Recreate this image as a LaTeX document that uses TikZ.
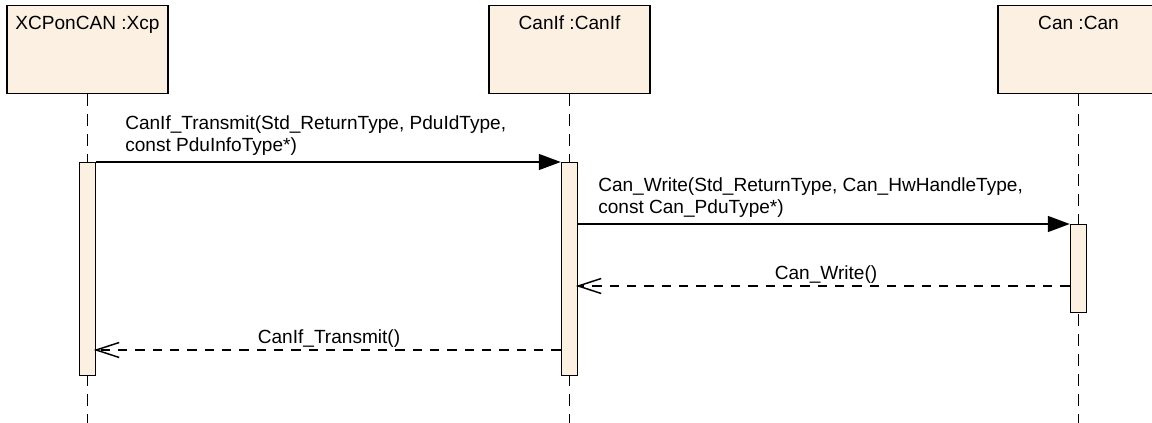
\documentclass[tikz,border=0pt]{standalone}
\usepackage{fontspec}
\setmainfont{Liberation Sans}
\usetikzlibrary{arrows.meta,calc}
\definecolor{objfill}{RGB}{251,240,226}
\begin{document}
\begin{tikzpicture}[x=0.75pt,y=-0.75pt,
  txt/.style={font=\fontsize{14.3pt}{16.5pt}\selectfont,inner sep=0pt},
  objbox/.style={draw,line width=1.1pt,fill=objfill,minimum width=120.75pt,minimum height=66pt,inner sep=0pt,anchor=north},
  objlabel/.style={txt,anchor=base},
  msglabel/.style={txt,anchor=base west},
  retlabel/.style={txt,anchor=base},
  lifeline/.style={line width=1.1pt,dash pattern=on 9pt off 6pt},
  actbar/.style={draw,line width=1.1pt,fill=objfill,minimum width=12pt,inner sep=0pt,anchor=north},
  call/.style={line width=1.1pt,-{Triangle[length=16.5pt,width=12pt]}},
  ret/.style={line width=1.1pt,dash pattern=on 7pt off 6pt},
  openhead/.style={line width=1.1pt,line join=miter}]
\useasboundingbox (0,0) rectangle (1152,423);
\clip (0,0) rectangle (1152,423);
% object boxes
\node[objbox] (xcp) at (87.5,5) {};
\node[objbox] (canif) at (569.5,5) {};
\node[objbox] (can) at (1078.5,5) {};
\node[objlabel] (xcpl) at ($(xcp.north)+(0,25)$) {XCPonCAN :Xcp};
\node[objlabel] (canifl) at ($(canif.north)+(0,25)$) {CanIf :CanIf};
\node[objlabel] (canl) at ($(can.north)+(0,25)$) {Can :Can};
% helper coordinates
\coordinate (bot) at (0,423);
\coordinate (y1) at (0,162);
\coordinate (y2) at (0,224);
\coordinate (y3) at (0,286);
\coordinate (y4) at (0,350);
% lifelines
\draw[lifeline] (xcp.south) -- (xcp.south |- bot);
\draw[lifeline] (canif.south) -- (canif.south |- bot);
\draw[lifeline] (can.south) -- (can.south |- bot);
% activation bars
\node[actbar,minimum height=159.75pt] (b1) at (xcp.south |- y1) {};
\node[actbar,minimum height=159.75pt] (b2) at (canif.south |- y1) {};
\node[actbar,minimum height=66pt] (b3) at (can.south |- y2) {};
% messages
\draw[call] (b1.north east) -- (b2.north west);
\node[msglabel] (m1a) at (125,130) {CanIf\_Transmit(Std\_ReturnType, PduIdType,};
\node[msglabel] (m1b) at (125,152) {const PduInfoType*)};
\draw[call] (b2.east |- b3.north) -- (b3.north west);
\node[msglabel] (m2a) at (598,192) {Can\_Write(Std\_ReturnType, Can\_HwHandleType,};
\node[msglabel] (m2b) at (598,214) {const Can\_PduType*)};
% replies
\coordinate (t1) at (b2.east |- y3);
\coordinate (t2) at (b1.east |- y4);
\draw[ret] (b3.west |- y3) -- (t1);
\draw[openhead] ($(t1)+(23,-7.5)$) -- (t1) -- ($(t1)+(23,7.5)$);
\node[retlabel] (r1) at (826,280) {Can\_Write()};
\draw[ret] (b2.west |- y4) -- (t2);
\draw[openhead] ($(t2)+(23,-7.5)$) -- (t2) -- ($(t2)+(23,7.5)$);
\node[retlabel] (r2) at (329,344) {CanIf\_Transmit()};
\end{tikzpicture}
\end{document}
